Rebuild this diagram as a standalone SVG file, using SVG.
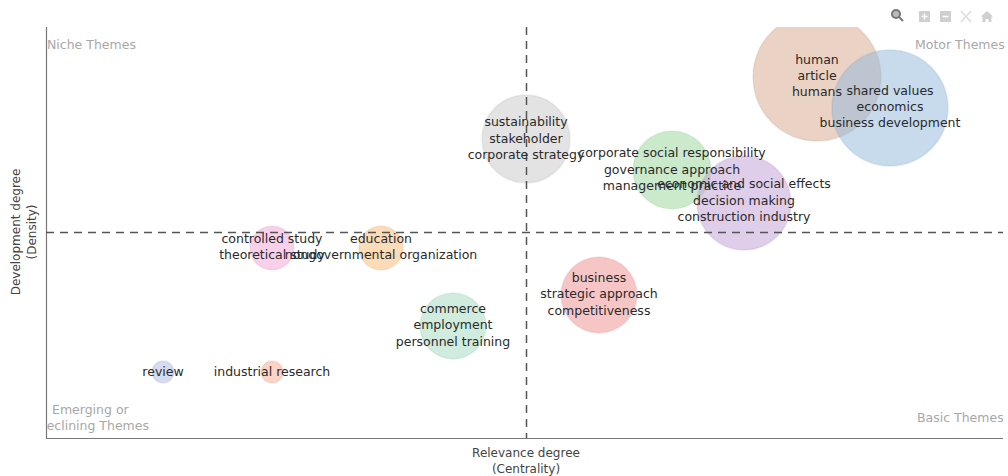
<svg xmlns="http://www.w3.org/2000/svg" width="1008" height="476" viewBox="0 0 1008 476">
<style>
text{font-family:"DejaVu Sans",sans-serif;font-size:12.500px;text-anchor:middle;fill:#2a2a2a}
.q{fill:#a8a8a8;text-anchor:start}
.ax{fill:#444;font-size:12px}
.c{stroke-width:1.5;stroke-opacity:.15}
.d{stroke:#555;stroke-width:1.5;stroke-dasharray:8 6;fill:none}
.tb{fill:#cfcfcf}
</style>
<defs>
<clipPath id="plot"><rect x="46" y="27" width="962" height="412"/></clipPath>
</defs>
<rect width="1008" height="476" fill="#fff"/>
<g id="axes"><path d="M46.500 27V438.500H1003" fill="none" stroke="#777" stroke-width="1.200"/></g>
<g id="toolbar">
<circle cx="896" cy="14" r="4" fill="#bbb" stroke="#777" stroke-width="2"/><path d="M899 17l4 4" stroke="#777" stroke-width="2"/>
<rect class="tb" x="919" y="11" width="11" height="11"/><path d="M921.500 16.500h6M924.500 13.500v6" stroke="#fff" stroke-width="1.500"/>
<rect class="tb" x="940" y="11" width="11" height="11"/><path d="M942.500 16.500h6" stroke="#fff" stroke-width="1.500"/>
<path d="M961 11l10 11M971 11l-10 11" stroke="#dcdcdc" stroke-width="1.500"/>
<path class="tb" d="M987 11l6 5.500h-1.500V22h-3v-3h-3v3h-3v-5.500H981z"/>
</g>
<g id="human-theme" clip-path="url(#plot)"><circle class="c" cx="817" cy="77" r="64" fill="#d9ae94" fill-opacity=".55" stroke="#a97a5c"/></g>
<g id="shared-values-theme"><circle class="c" cx="890" cy="108" r="58" fill="#8fb7dc" fill-opacity=".5" stroke="#5a88b0"/></g>
<g id="sustainability-theme"><circle class="c" cx="526" cy="139" r="44" fill="#c8c8c8" fill-opacity=".5" stroke="#999"/></g>
<g id="csr-theme"><circle class="c" cx="672" cy="170" r="39" fill="#a8dba8" fill-opacity=".6" stroke="#78b078"/></g>
<g id="economic-theme"><circle class="c" cx="744" cy="203" r="47" fill="#c5a5d8" fill-opacity=".55" stroke="#9675aa"/></g>
<g id="business-theme"><circle class="c" cx="599" cy="295" r="38" fill="#f0a0a0" fill-opacity=".6" stroke="#c07070"/></g>
<g id="commerce-theme"><circle class="c" cx="453" cy="326" r="33" fill="#a8dcc4" fill-opacity=".55" stroke="#78ac94"/></g>
<g id="controlled-theme"><circle class="c" cx="272" cy="248" r="22" fill="#f4b0dc" fill-opacity=".6" stroke="#c480ac"/></g>
<g id="education-theme"><circle class="c" cx="381" cy="248" r="22" fill="#fac890" fill-opacity=".65" stroke="#ca9860"/></g>
<g id="review-theme"><circle class="c" cx="163" cy="372" r="11" fill="#b4c0e4" fill-opacity=".55" stroke="#8490b4"/></g>
<g id="industrial-theme"><circle class="c" cx="272" cy="372" r="11" fill="#f8b8a0" fill-opacity=".6" stroke="#c88870"/></g>
<g id="connectors">
<path class="d" d="M46 232.500H1003"/>
<path class="d" d="M526.500 27V438"/>
</g>
<g id="quadrant-labels">
<text class="q" x="47" y="49">Niche Themes</text>
<text class="q" x="915" y="49">Motor Themes</text>
<text class="q" x="52" y="414">Emerging or</text>
<g clip-path="url(#plot)"><text class="q" x="37" y="430">Declining Themes</text></g>
<text class="q" x="917" y="422">Basic Themes</text>
</g>
<g id="labels">
<text x="817" y="64">human</text><text x="817" y="80">article</text><text x="817" y="96">humans</text>
<text x="890" y="95">shared values</text><text x="890" y="111">economics</text><text x="890" y="127">business development</text>
<text x="526" y="126">sustainability</text><text x="526" y="143">stakeholder</text><text x="526" y="159">corporate strategy</text>
<text x="672" y="157">corporate social responsibility</text><text x="672" y="174">governance approach</text><text x="672" y="190">management practice</text>
<text x="744" y="188">economic and social effects</text><text x="744" y="205">decision making</text><text x="744" y="221">construction industry</text>
<text x="599" y="282">business</text><text x="599" y="298">strategic approach</text><text x="599" y="315">competitiveness</text>
<text x="453" y="313">commerce</text><text x="453" y="329">employment</text><text x="453" y="346">personnel training</text>
<text x="272" y="243">controlled study</text><text x="272" y="259">theoretical study</text>
<text x="381" y="243">education</text><text x="381" y="259">nongovernmental organization</text>
<text x="163" y="376">review</text><text x="272" y="376">industrial research</text>
</g>
<g id="axis-titles">
<text class="ax" x="526" y="457">Relevance degree</text><text class="ax" x="526" y="473">(Centrality)</text>
<text class="ax" transform="translate(20 232) rotate(-90)">Development degree</text>
<text class="ax" transform="translate(36 232) rotate(-90)">(Density)</text>
</g>
</svg>
